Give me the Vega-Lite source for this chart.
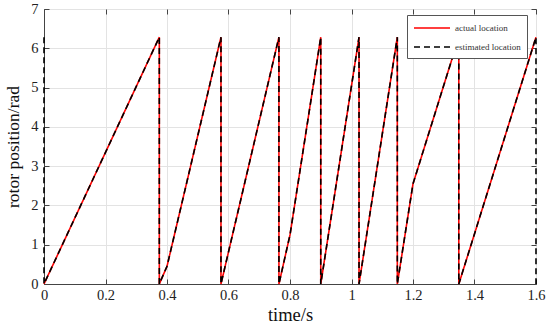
{
  "$schema": "https://vega.github.io/schema/vega-lite/v6.json",
  "width": 492,
  "height": 275,
  "autosize": {"type": "none"},
  "padding": {"left": 44, "top": 9, "right": 14, "bottom": 48},
  "background": "white",
  "config": {
    "font": "Liberation Serif",
    "view": {"stroke": "#444", "strokeWidth": 1},
    "axis": {"labelFont": "Liberation Serif", "titleFont": "Liberation Serif", "labelColor": "#222", "titleColor": "#111", "titleFontWeight": "normal", "domainColor": "#444", "tickColor": "#444", "gridColor": "#e3e3e3", "gridWidth": 1},
    "legend": {"labelFont": "Liberation Serif"}
  },
  "data": {
    "values": [
      {"s": "actual location", "i": 0, "t": 0, "v": 0},
      {"s": "actual location", "i": 1, "t": 0.375, "v": 6.283},
      {"s": "actual location", "i": 2, "t": 0.375, "v": 0},
      {"s": "actual location", "i": 3, "t": 0.4, "v": 0.45},
      {"s": "actual location", "i": 4, "t": 0.5755, "v": 6.283},
      {"s": "actual location", "i": 5, "t": 0.5755, "v": 0},
      {"s": "actual location", "i": 6, "t": 0.764, "v": 6.283},
      {"s": "actual location", "i": 7, "t": 0.764, "v": 0},
      {"s": "actual location", "i": 8, "t": 0.8, "v": 1.25},
      {"s": "actual location", "i": 9, "t": 0.9, "v": 6.283},
      {"s": "actual location", "i": 10, "t": 0.9, "v": 0},
      {"s": "actual location", "i": 11, "t": 1.0245, "v": 6.283},
      {"s": "actual location", "i": 12, "t": 1.0245, "v": 0},
      {"s": "actual location", "i": 13, "t": 1.149, "v": 6.283},
      {"s": "actual location", "i": 14, "t": 1.149, "v": 0},
      {"s": "actual location", "i": 15, "t": 1.2, "v": 2.55},
      {"s": "actual location", "i": 16, "t": 1.349, "v": 6.283},
      {"s": "actual location", "i": 17, "t": 1.349, "v": 0},
      {"s": "actual location", "i": 18, "t": 1.6, "v": 6.283},
      {"s": "estimated location", "i": 0, "t": 0, "v": 6.283},
      {"s": "estimated location", "i": 1, "t": 0, "v": 0},
      {"s": "estimated location", "i": 2, "t": 0.375, "v": 6.283},
      {"s": "estimated location", "i": 3, "t": 0.375, "v": 0},
      {"s": "estimated location", "i": 4, "t": 0.4, "v": 0.45},
      {"s": "estimated location", "i": 5, "t": 0.5755, "v": 6.283},
      {"s": "estimated location", "i": 6, "t": 0.5755, "v": 0},
      {"s": "estimated location", "i": 7, "t": 0.764, "v": 6.283},
      {"s": "estimated location", "i": 8, "t": 0.764, "v": 0},
      {"s": "estimated location", "i": 9, "t": 0.8, "v": 1.25},
      {"s": "estimated location", "i": 10, "t": 0.9, "v": 6.283},
      {"s": "estimated location", "i": 11, "t": 0.9, "v": 0},
      {"s": "estimated location", "i": 12, "t": 1.0245, "v": 6.283},
      {"s": "estimated location", "i": 13, "t": 1.0245, "v": 0},
      {"s": "estimated location", "i": 14, "t": 1.149, "v": 6.283},
      {"s": "estimated location", "i": 15, "t": 1.149, "v": 0},
      {"s": "estimated location", "i": 16, "t": 1.2, "v": 2.55},
      {"s": "estimated location", "i": 17, "t": 1.349, "v": 6.283},
      {"s": "estimated location", "i": 18, "t": 1.349, "v": 0},
      {"s": "estimated location", "i": 19, "t": 1.6, "v": 6.283},
      {"s": "estimated location", "i": 20, "t": 1.6, "v": 0}
    ]
  },
  "layer": [
    {
      "mark": {"type": "line", "strokeWidth": 1.6, "clip": false},
      "encoding": {
        "x": {"field": "t", "type": "quantitative", "scale": {"domain": [0, 1.6], "nice": false},
          "axis": {"orient": "bottom", "values": [0, 0.2, 0.4, 0.6, 0.8, 1, 1.2, 1.4, 1.6], "format": "~g", "title": "time/s", "labelFont": "Liberation Serif", "titleFont": "Liberation Serif", "labelFontSize": 14.5, "titleFontSize": 18.5, "tickSize": -5, "labelPadding": 9, "titlePadding": 4, "labelFlush": false, "labelOverlap": false}},
        "y": {"field": "v", "type": "quantitative", "scale": {"domain": [0, 7], "nice": false},
          "axis": {"orient": "left", "values": [0, 1, 2, 3, 4, 5, 6, 7], "title": "rotor position/rad", "labelFont": "Liberation Serif", "titleFont": "Liberation Serif", "labelFontSize": 14.5, "titleFontSize": 17.5, "tickSize": -5, "labelPadding": 11, "titlePadding": 8, "labelFlush": false, "labelOverlap": false}},
        "order": {"field": "i", "type": "quantitative"},
        "color": {"field": "s", "type": "nominal", "title": null,
          "scale": {"domain": ["actual location", "estimated location"], "range": ["#ff0000", "#000000"]},
          "legend": {"orient": "none", "legendX": 363, "legendY": 6, "symbolType": "M-3,0H3", "symbolSize": 144, "symbolStrokeWidth": 1.6, "symbolOffset": 12, "labelFontSize": 9, "labelFont": "Liberation Serif", "labelColor": "#333", "labelOffset": 16, "fillColor": "white", "strokeColor": "#555", "padding": 6, "rowPadding": 7}},
        "strokeDash": {"field": "s", "type": "nominal", "title": null,
          "scale": {"domain": ["actual location", "estimated location"], "range": [[1, 0], [6, 4]]}}
      }
    },
    {
      "mark": {"type": "line", "opacity": 0},
      "encoding": {
        "x": {"field": "t", "type": "quantitative", "scale": {"domain": [0, 1.6], "nice": false},
          "axis": {"orient": "top", "values": [0, 0.2, 0.4, 0.6, 0.8, 1, 1.2, 1.4, 1.6], "labels": false, "title": null, "grid": false, "tickSize": -5, "domain": false}},
        "y": {"field": "v", "type": "quantitative", "scale": {"domain": [0, 7], "nice": false},
          "axis": {"orient": "right", "values": [0, 1, 2, 3, 4, 5, 6, 7], "labels": false, "title": null, "grid": false, "tickSize": -5, "domain": false}},
        "detail": {"field": "s"}
      }
    }
  ],
  "resolve": {"axis": {"x": "independent", "y": "independent"}}
}
